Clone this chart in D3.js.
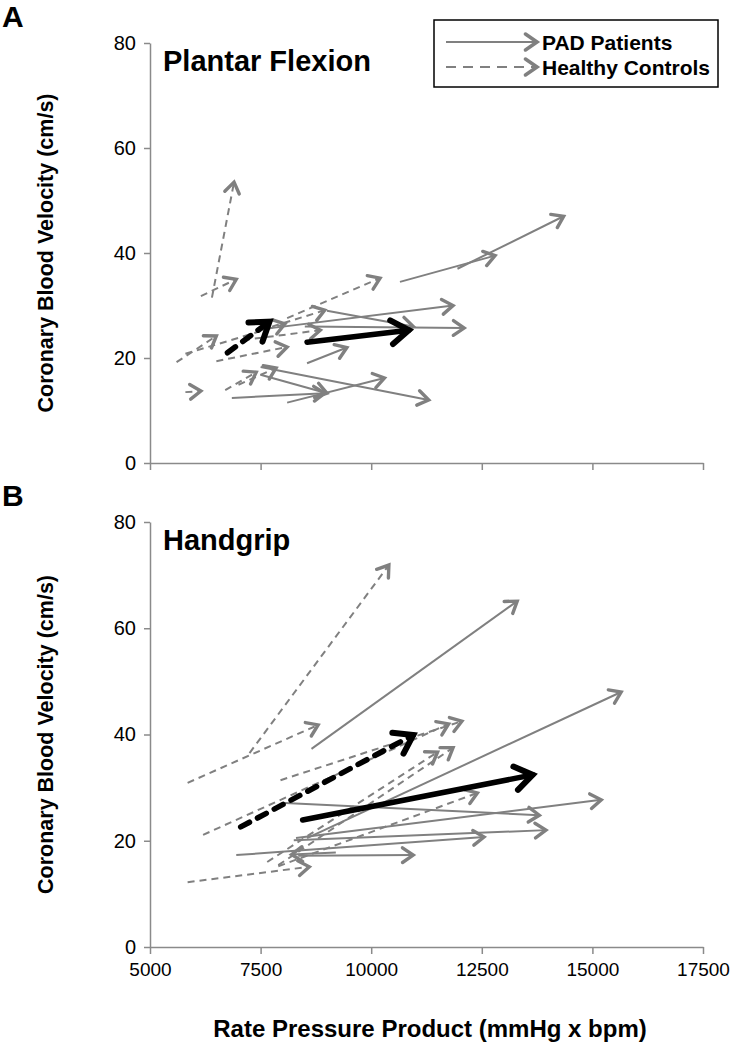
<!DOCTYPE html>
<html><head><meta charset="utf-8">
<script src="https://cdn.jsdelivr.net/npm/d3@7"></script>
<style>
html,body{margin:0;padding:0;background:#fff;}
text{font-family:"Liberation Sans",Arial,sans-serif;fill:#000;}
</style></head>
<body>
<svg id="c" width="730" height="1050"></svg>
<script>
// ---------- data ----------
const xTicks = [5000, 7500, 10000, 12500, 15000, 17500];
const yTicks = [0, 20, 40, 60, 80];

// each arrow: [rppStart, velStart, rppEnd, velEnd]
const padPlantar = [
  [10650, 34.5, 12800, 39.5],
  [11950, 37.0, 14350, 47.0],
  [7550, 25.5, 11850, 30.0],
  [9000, 29.0, 10950, 26.0],
  [8500, 26.0, 12100, 25.7],
  [8550, 19.0, 9450, 22.0],
  [7500, 18.3, 11300, 12.0],
  [7500, 16.8, 9000, 13.3],
  [6850, 12.4, 8950, 13.3],
  [8100, 11.5, 10300, 16.2]
];
const ctrlPlantar = [
  [6400, 31.5, 6900, 53.5],
  [6150, 31.8, 6950, 35.0],
  [8100, 27.6, 10200, 35.2],
  [5600, 19.2, 6500, 24.2],
  [5800, 20.8, 8050, 26.5],
  [6500, 19.4, 8100, 22.1],
  [6700, 13.9, 7400, 17.3],
  [7000, 14.9, 7850, 18.1],
  [5800, 13.5, 6150, 13.7],
  [7500, 25.3, 8950, 29.1],
  [7100, 23.4, 8850, 25.3]
];
const meanPlantarCtrl = [6750, 21.0, 7700, 26.9];
const meanPlantarPad = [8550, 23.0, 10850, 25.3];

const padHandgrip = [
  [8650, 37.3, 13300, 65.1],
  [8550, 20.5, 15650, 48.0],
  [8050, 27.1, 13800, 24.8],
  [8300, 20.5, 15200, 27.7],
  [8250, 20.1, 13950, 22.0],
  [6950, 17.3, 12550, 20.7],
  [8350, 17.2, 10950, 17.3],
  [9200, 17.8, 8200, 17.4]
];
const ctrlHandgrip = [
  [5850, 12.2, 8600, 15.1],
  [5850, 30.9, 8800, 41.8],
  [7250, 36.5, 10400, 71.9],
  [6200, 21.1, 11750, 42.0],
  [7950, 31.4, 12050, 42.5],
  [7650, 16.0, 11500, 36.7],
  [7900, 15.4, 11850, 37.5],
  [7900, 15.2, 12400, 29.0]
];
const meanHandgripCtrl = [7050, 22.6, 10950, 39.9];
const meanHandgripPad = [8450, 23.9, 13650, 32.4];

// ---------- drawing ----------
const svg = d3.select("#c");
const grey = "#808080", axisGrey = "#8a8a8a";
const x = d3.scaleLinear().domain([5000, 17500]).range([150, 703]);
const panels = [
  {label: "A", title: "Plantar Flexion", y0: 463, y1: 43, pad: padPlantar, ctrl: ctrlPlantar,
   mc: meanPlantarCtrl, mp: meanPlantarPad, xLabels: false},
  {label: "B", title: "Handgrip", y0: 947, y1: 522, pad: padHandgrip, ctrl: ctrlHandgrip,
   mc: meanHandgripCtrl, mp: meanHandgripPad, xLabels: true}
];

function arrow(g, x0, y0, x1, y1, opt) {
  g.append("line").attr("x1", x0).attr("y1", y0).attr("x2", x1).attr("y2", y1)
    .attr("stroke", opt.color).attr("stroke-width", opt.w)
    .attr("stroke-dasharray", opt.dash || null)
    .attr("stroke-linecap", opt.cap || "butt");
  const a = Math.atan2(y1 - y0, x1 - x0);
  const L = opt.head, s = 0.6;
  const p = d3.path();
  p.moveTo(x1 - L * Math.cos(a - s), y1 - L * Math.sin(a - s));
  p.lineTo(x1, y1);
  p.lineTo(x1 - L * Math.cos(a + s), y1 - L * Math.sin(a + s));
  g.append("path").attr("d", p.toString()).attr("fill", "none")
    .attr("stroke", opt.color).attr("stroke-width", opt.hw)
    .attr("stroke-linecap", "round").attr("stroke-linejoin", "miter");
}

const thinSolid = {color: grey, w: 2, head: 13, hw: 3.4};
const thinDash = {color: grey, w: 2, head: 13, hw: 3.4, dash: "7,5"};
const legDash = {color: grey, w: 2.2, head: 14, hw: 3.6, dash: "10,7"};
const legSolid = {color: grey, w: 2.2, head: 14, hw: 3.6};
const thickSolid = {color: "#000", w: 5.5, head: 21, hw: 6, cap: "round"};
const thickDash = {color: "#000", w: 5.5, head: 21, hw: 6, dash: "10,9", cap: "round"};

panels.forEach(P => {
  const y = d3.scaleLinear().domain([0, 80]).range([P.y0, P.y1]);
  const g = svg.append("g");

  // y axis
  const ya = g.append("g").attr("transform", `translate(${x(5000)},0)`)
    .call(d3.axisLeft(y).tickValues(yTicks).tickSize(6).tickSizeOuter(0).tickPadding(8));
  ya.select(".domain").attr("stroke", axisGrey).attr("stroke-width", 1.5);
  ya.selectAll(".tick line").attr("stroke", axisGrey).attr("stroke-width", 1.5);
  ya.selectAll(".tick text").style("font-family", "'Liberation Sans',Arial,sans-serif")
    .style("font-size", "20px").attr("fill", "#000");

  // x axis
  const xa = g.append("g").attr("transform", `translate(0,${P.y0})`)
    .call(d3.axisBottom(x).tickValues(xTicks).tickSize(7).tickSizeOuter(0).tickPadding(9)
      .tickFormat(P.xLabels ? d3.format("d") : () => ""));
  xa.select(".domain").attr("stroke", axisGrey).attr("stroke-width", 1.5);
  xa.selectAll(".tick line").attr("stroke", axisGrey).attr("stroke-width", 1.5);
  xa.selectAll(".tick text").style("font-family", "'Liberation Sans',Arial,sans-serif")
    .style("font-size", "19px").attr("fill", "#000");

  // arrows
  const ag = g.append("g");
  P.ctrl.forEach(d => arrow(ag, x(d[0]), y(d[1]), x(d[2]), y(d[3]), thinDash));
  P.pad.forEach(d => arrow(ag, x(d[0]), y(d[1]), x(d[2]), y(d[3]), thinSolid));
  arrow(ag, x(P.mc[0]), y(P.mc[1]), x(P.mc[2]), y(P.mc[3]), thickDash);
  arrow(ag, x(P.mp[0]), y(P.mp[1]), x(P.mp[2]), y(P.mp[3]), thickSolid);

  // texts
  g.append("text").attr("x", 2).attr("y", P.y1 - 16).text(P.label)
    .style("font-size", "30px").style("font-weight", "bold");
  g.append("text").attr("x", 163).attr("y", P.y1 + 28).text(P.title)
    .style("font-size", "29px").style("font-weight", "bold");
  g.append("text").attr("transform", `translate(53,${(P.y0 + P.y1) / 2}) rotate(-90)`)
    .attr("text-anchor", "middle").text("Coronary Blood Velocity (cm/s)")
    .style("font-size", "21.5px").style("font-weight", "bold");
});

svg.append("text").attr("x", 430).attr("y", 1037).attr("text-anchor", "middle")
  .text("Rate Pressure Product (mmHg x bpm)")
  .style("font-size", "24px").style("font-weight", "bold");

// legend
const lg = svg.append("g");
lg.append("rect").attr("x", 434).attr("y", 20).attr("width", 284).attr("height", 67)
  .attr("fill", "#fff").attr("stroke", "#000").attr("stroke-width", 1.5);
const legendItems = [["PAD Patients", legSolid, 42], ["Healthy Controls", legDash, 67]];
legendItems.forEach(([t, o, ly]) => {
  arrow(lg, 446, ly, 537, ly, o);
  lg.append("text").attr("x", 542).attr("y", ly).attr("dy", "0.36em").text(t)
    .style("font-size", "21px").style("font-weight", "bold");
});
</script>
</body></html>
